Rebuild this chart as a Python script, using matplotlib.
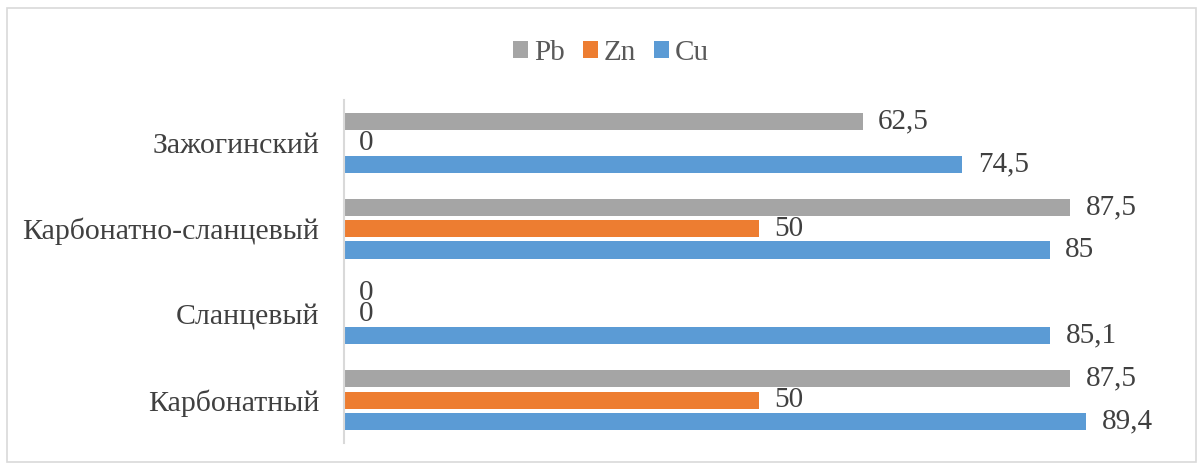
import matplotlib.pyplot as plt
import numpy as np
from matplotlib.patches import Rectangle

plt.rcParams['font.family'] = ['Liberation Serif', 'DejaVu Serif']

categories = ['Карбонатный', 'Сланцевый', 'Карбонатно-сланцевый', 'Зажогинский']
cu = [89.4, 85.1, 85, 74.5]
zn = [50, 0, 50, 0]
pb = [87.5, 0, 87.5, 62.5]

series = [('Cu', cu, '#5B9BD5'), ('Zn', zn, '#ED7D31'), ('Pb', pb, '#A5A5A5')]


def fmt(v):
    return f"{v:g}".replace('.', ',')


fig = plt.figure(figsize=(12.03, 4.70), dpi=100)
ax = fig.add_axes([0.286, 0.0575, 0.69, 0.73])

y = np.arange(len(categories))
step, height = 0.25, 0.2
handles = []
for i, (name, vals, color) in enumerate(series):
    pos = y + (i - 1) * step
    h = ax.barh(pos, vals, height=height, color=color, label=name)
    handles.append(h)
    for p, v in zip(pos, vals):
        ax.annotate(fmt(v), (v, p), xytext=(11, 0), textcoords='offset points',
                    va='center', ha='left', fontsize=21, color='#404040')

ax.set_xlim(0, 100)
ax.set_ylim(-0.5, 3.5)
ax.set_yticks(y)
ax.set_yticklabels(categories, fontsize=21.5, color='#404040')
ax.tick_params(axis='y', length=0, pad=18)
ax.set_xticks([])
for s in ['top', 'right', 'bottom']:
    ax.spines[s].set_visible(False)
ax.spines['left'].set_color('#D9D9D9')
ax.spines['left'].set_linewidth(1.5)

fig.legend(handles[::-1], ['Pb', 'Zn', 'Cu'], loc='center', bbox_to_anchor=(0.508, 0.888),
           ncol=3, frameon=False, fontsize=21, handlelength=0.52, handleheight=0.52,
           handletextpad=0.2, columnspacing=0.62, labelcolor='#595959')

fig.patches.append(Rectangle((0.006, 0.017), 0.988, 0.966, transform=fig.transFigure,
                             fill=False, edgecolor='#D9D9D9', linewidth=1.2))

fig.savefig('out.png', dpi=100)
